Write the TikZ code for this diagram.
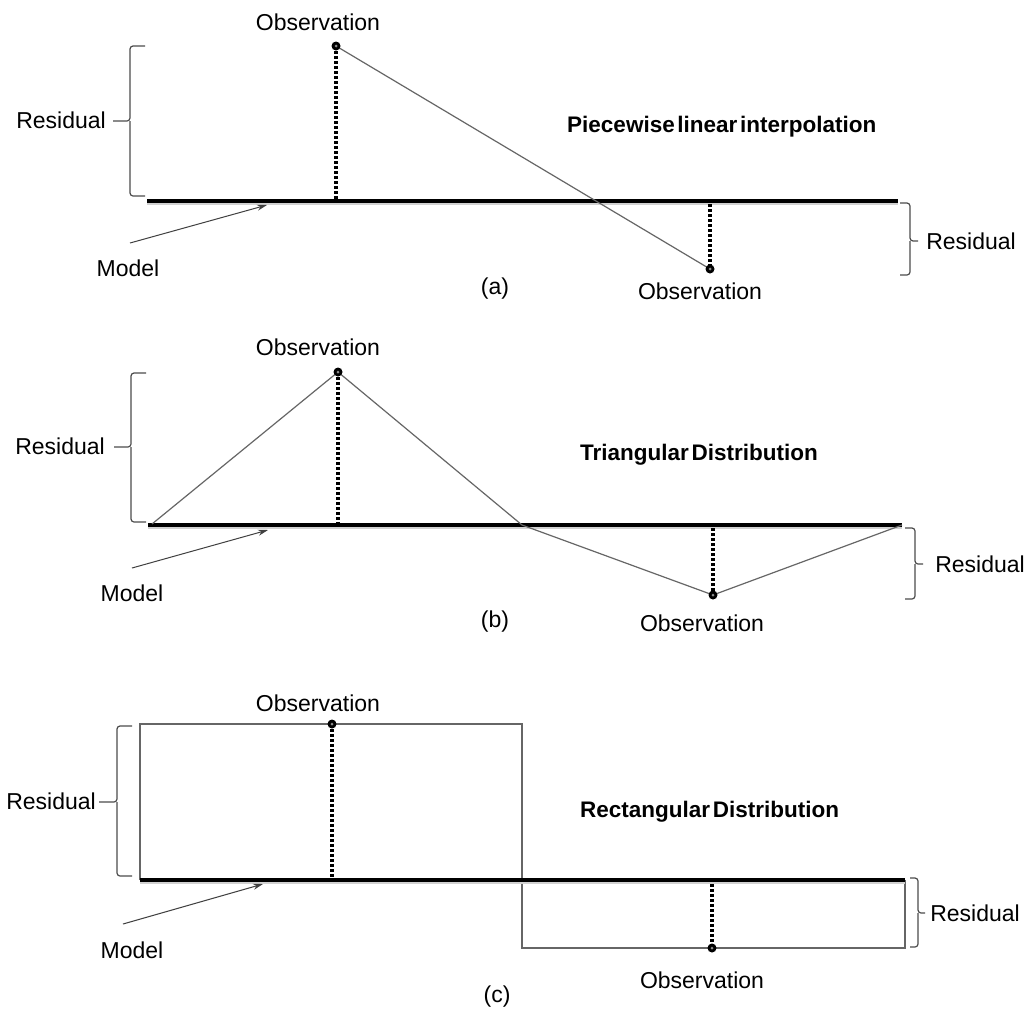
\documentclass[tikz,border=0pt]{standalone}
\usepackage{fontspec}
\setmainfont{Liberation Sans}
\usetikzlibrary{arrows.meta}
\newcommand{\tightwords}{\spaceskip=0.12em\relax}
\begin{document}
\begin{tikzpicture}[x=1pt,y=-1pt,
  modelline/.style={line width=3.4pt,black},
  modelshadow/.style={line width=3pt,black!18},
  obsline/.style={line width=1.2pt,black!60},
  rectline/.style={line width=1.5pt,black!60},
  dotline/.style={line width=3.8pt,black,dash pattern=on 2.8pt off 2.2pt},
  brc/.style={line width=1.2pt,black!70,rounded corners=3pt},
  ptr/.style={line width=1pt,black!75,-{Stealth[length=10pt,width=6pt]}},
  lbl/.style={inner sep=0pt,font=\fontsize{23}{26}\selectfont},
  ttl/.style={inner sep=0pt,anchor=west,font=\fontsize{22.5}{26}\selectfont\bfseries}]
\useasboundingbox (0,0) rectangle (1030,1010);
\fill[white] (0,0) rectangle (1030,1010);

% ================= panel (a) =================
\coordinate (aML) at (147,201);
\coordinate (aMR) at (898,201);
\coordinate (aT) at (336,46);
\coordinate (aTb) at (336,201);
\coordinate (aB) at (710,269);
\coordinate (aBt) at (710,204);
\coordinate (aA0) at (130,243);
\coordinate (aA1) at (267,205);
\draw[modelshadow] ([yshift=-2.5pt]aML) -- ([yshift=-2.5pt]aMR);
\draw[modelline] (aML) -- (aMR);
\draw[obsline] (aT) -- (aB);
\draw[dotline] (aT) -- (aTb);
\draw[dotline] (aBt) -- (aB);
\fill (aT) circle (4.5pt); \fill[black!45] (aT) circle (1.5pt);
\fill (aB) circle (4.5pt); \fill[black!45] (aB) circle (1.5pt);
\draw[ptr] (aA0) -- (aA1);
% braces
\draw[brc] (145,46) -- (130,46) -- (130,121) -- (113,121);
\draw[brc] (130,121) -- (130,196) -- (145,196);
\draw[brc] (900,203) -- (910,203) -- (910,241) -- (918,241);
\draw[brc] (910,241) -- (910,275) -- (900,275);
% labels
\node[lbl] (aObsT) at (318,22) {Observation};
\node[lbl] (aObsB) at (700,291) {Observation};
\node[lbl] (aResL) at (61,120) {Residual};
\node[lbl] (aResR) at (971,241) {Residual};
\node[lbl] (aModel) at (128,268) {Model};
\node[lbl] (aCap) at (495,289) {(a)};
\node[ttl] (aTitle) at (567,127) {\tightwords Piecewise linear interpolation};

% ================= panel (b) =================
\coordinate (bML) at (148,525);
\coordinate (bMR) at (902,525);
\coordinate (bT) at (338,372);
\coordinate (bTb) at (338,525);
\coordinate (bB) at (713,595);
\coordinate (bBt) at (713,528);
\coordinate (bX) at (522,525);
\coordinate (bL) at (152,524);
\coordinate (bA0) at (132,568);
\coordinate (bA1) at (268,530);
\draw[modelshadow] ([yshift=-2.5pt]bML) -- ([yshift=-2.5pt]bMR);
\draw[modelline] (bML) -- (bMR);
\draw[obsline] (bL) -- (bT) -- (bX) -- (bB) -- (bMR);
\draw[dotline] (bT) -- (bTb);
\draw[dotline] (bBt) -- (bB);
\fill (bT) circle (4.5pt); \fill[black!45] (bT) circle (1.5pt);
\fill (bB) circle (4.5pt); \fill[black!45] (bB) circle (1.5pt);
\draw[ptr] (bA0) -- (bA1);
\draw[brc] (146,373) -- (131,373) -- (131,447) -- (114,447);
\draw[brc] (131,447) -- (131,522) -- (146,522);
\draw[brc] (905,528) -- (915,528) -- (915,564) -- (923,564);
\draw[brc] (915,564) -- (915,599) -- (905,599);
\node[lbl] (bObsT) at (318,347) {Observation};
\node[lbl] (bObsB) at (702,623) {Observation};
\node[lbl] (bResL) at (60,446) {Residual};
\node[lbl] (bResR) at (980,564) {Residual};
\node[lbl] (bModel) at (132,593) {Model};
\node[lbl] (bCap) at (495,622) {(b)};
\node[ttl] (bTitle) at (580,455) {\tightwords Triangular Distribution};

% ================= panel (c) =================
\coordinate (cML) at (140,880);
\coordinate (cMR) at (905,880);
\coordinate (cT) at (332,724);
\coordinate (cTb) at (332,880);
\coordinate (cB) at (712,948);
\coordinate (cBt) at (712,884);
\coordinate (cTL) at (140,724);
\coordinate (cTR) at (522,724);
\coordinate (cBL) at (522,948);
\coordinate (cBR) at (905,948);
\coordinate (cA0) at (123,924);
\coordinate (cA1) at (263,884);
\draw[rectline] (cML) -- (cTL) -- (cTR) -- (cBL) -- (cBR) -- (cMR);
\draw[modelshadow] ([yshift=-2.5pt]cML) -- ([yshift=-2.5pt]cMR);
\draw[modelline] (cML) -- (cMR);
\draw[dotline] (cT) -- (cTb);
\draw[dotline] (cBt) -- (cB);
\fill (cT) circle (4.5pt); \fill[black!45] (cT) circle (1.5pt);
\fill (cB) circle (4.5pt); \fill[black!45] (cB) circle (1.5pt);
\draw[ptr] (cA0) -- (cA1);
\draw[brc] (132,726) -- (117,726) -- (117,802) -- (99,802);
\draw[brc] (117,802) -- (117,876) -- (132,876);
\draw[brc] (910,878) -- (918,878) -- (918,913) -- (925,913);
\draw[brc] (918,913) -- (918,947) -- (910,947);
\node[lbl] (cObsT) at (318,703) {Observation};
\node[lbl] (cObsB) at (702,980) {Observation};
\node[lbl] (cResL) at (51,801) {Residual};
\node[lbl] (cResR) at (975,913) {Residual};
\node[lbl] (cModel) at (132,950) {Model};
\node[lbl] (cCap) at (497,997) {(c)};
\node[ttl] (cTitle) at (580,812) {\tightwords Rectangular Distribution};
\end{tikzpicture}
\end{document}
